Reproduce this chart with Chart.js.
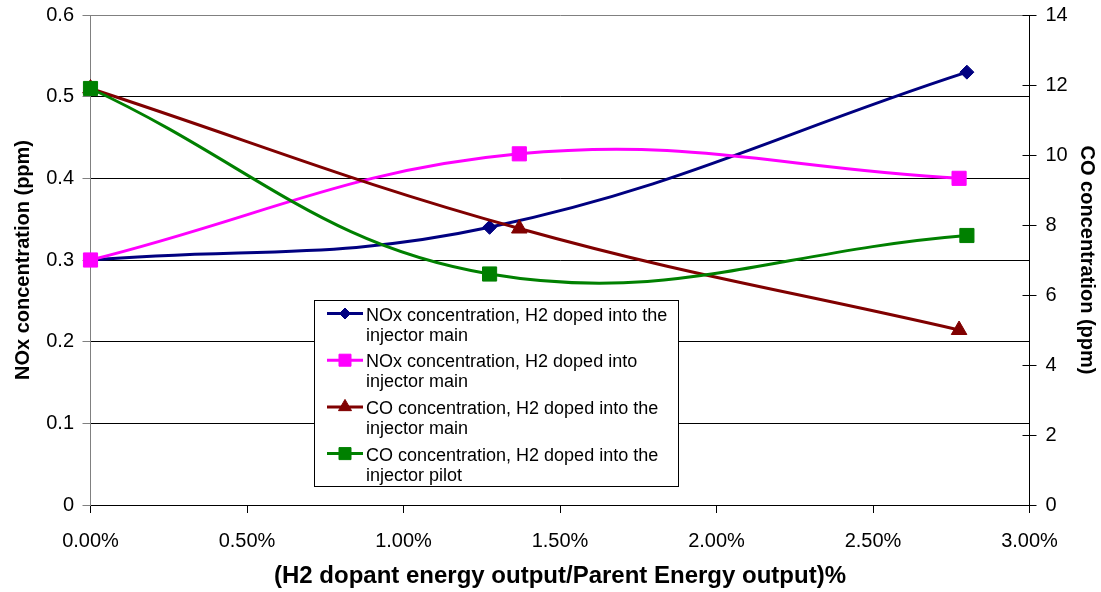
<!DOCTYPE html>
<html>
<head>
<meta charset="utf-8">
<title>NOx and CO concentration vs H2 dopant energy</title>
<script src="https://cdn.jsdelivr.net/npm/chart.js@4.4.1/dist/chart.umd.min.js"></script>
<style>
  html, body { margin: 0; padding: 0; background: #ffffff; }
  #wrap { width: 1101px; height: 592px; }
</style>
</head>
<body>
<div id="wrap"><canvas id="chart" width="1101" height="592"></canvas></div>
<script>
// H2 dopant energy as a share of parent energy output (%), per test series
const dopantShareA = [0.00, 1.275, 2.80];
const dopantShareB = [0.00, 1.37, 2.775];

// Measured concentrations (ppm)
const noxMain      = [0.30, 0.34, 0.53];  // NOx, H2 doped into the injector main
const noxMainB     = [0.30, 0.43, 0.40];  // NOx, H2 doped into injector main
const coMain       = [11.9, 7.9, 5.0];    // CO, H2 doped into the injector main
const coPilot      = [11.9, 6.6, 7.7];    // CO, H2 doped into the injector pilot

// Series names (two lines each, as set in the legend box)
const seriesNames = [
  ['NOx concentration, H2 doped into the', 'injector main'],
  ['NOx concentration, H2 doped into', 'injector main'],
  ['CO concentration, H2 doped into the', 'injector main'],
  ['CO concentration, H2 doped into the', 'injector pilot']
];

// Tick labels
const xTickLabels   = ['0.00%', '0.50%', '1.00%', '1.50%', '2.00%', '2.50%', '3.00%'];
const noxTickLabels = ['0', '0.1', '0.2', '0.3', '0.4', '0.5', '0.6'];
const coTickLabels  = ['0', '2', '4', '6', '8', '10', '12', '14'];

// Axis titles
const xTitle   = '(H2 dopant energy output/Parent Energy output)%';
const noxTitle = 'NOx concentration (ppm)';
const coTitle  = 'CO concentration (ppm)';

const FONT = "'Liberation Sans', Arial, Helvetica, sans-serif";
Chart.defaults.font.family = FONT;
Chart.defaults.color = '#000000';

function points(xs, ys) {
  return xs.map((x, i) => ({ x: x, y: ys[i] }));
}

function series(idx, xs, ys, axis, color, style, radius, order) {
  return {
    label: seriesNames[idx].join(' '),
    data: points(xs, ys),
    yAxisID: axis,
    borderColor: color,
    backgroundColor: color,
    pointBackgroundColor: color,
    pointBorderColor: color,
    pointStyle: style,
    pointRadius: radius,
    pointHoverRadius: radius,
    pointBorderWidth: 1,
    borderWidth: 3,
    tension: 0.4,
    clip: false,
    order: order
  };
}

const datasets = [
  series(0, dopantShareA, noxMain,  'yNox', '#000080', 'rectRot',  7,  3),
  series(1, dopantShareB, noxMainB, 'yNox', '#ff00ff', 'rect',     10, 2),
  series(2, dopantShareB, coMain,   'yCo',  '#800000', 'triangle', 9,  1),
  series(3, dopantShareA, coPilot,  'yCo',  '#008000', 'rect',     10, 0)
];

// Fixed box sizes for the axes so the plot area sits where it should
function fixVertical(width) {
  return (scale) => {
    scale.width = width;
    scale.paddingTop = 0;
    scale.paddingBottom = 0;
  };
}

// Inward half of the right-axis tick marks and the boxed legend inside the plot
const decorations = {
  id: 'decorations',
  afterDraw(chart) {
    const ctx = chart.ctx;
    const co = chart.scales.yCo;
    ctx.save();
    ctx.strokeStyle = '#000000';
    ctx.lineWidth = 1;
    co.ticks.forEach((t) => {
      const y = Math.round(co.getPixelForValue(t.value)) + 0.5;
      ctx.beginPath();
      ctx.moveTo(co.left - 7, y);
      ctx.lineTo(co.left, y);
      ctx.stroke();
    });

    // legend box
    const bx = 314.5, by = 300.5, bw = 364, bh = 186;
    ctx.fillStyle = '#ffffff';
    ctx.fillRect(bx, by, bw, bh);
    ctx.strokeStyle = '#000000';
    ctx.lineWidth = 1;
    ctx.strokeRect(bx, by, bw, bh);

    const legendMarkers = [
      { style: 'rectRot', radius: 5.5 },
      { style: 'rect', radius: 8.5 },
      { style: 'triangle', radius: 7.5 },
      { style: 'rect', radius: 8.5 }
    ];
    ctx.font = '18px ' + FONT;
    ctx.textAlign = 'left';
    ctx.textBaseline = 'alphabetic';
    chart.data.datasets.forEach((ds, i) => {
      const cy = 313.5 + i * 46.7;
      ctx.strokeStyle = ds.borderColor;
      ctx.lineWidth = 3;
      ctx.beginPath();
      ctx.moveTo(327, cy);
      ctx.lineTo(363, cy);
      ctx.stroke();
      ctx.fillStyle = ds.borderColor;
      ctx.lineWidth = 1;
      Chart.helpers.drawPoint(ctx, {
        pointStyle: legendMarkers[i].style,
        radius: legendMarkers[i].radius,
        rotation: 0,
        borderWidth: 1
      }, 345, cy);
      ctx.fillStyle = '#000000';
      const lines = seriesNames[i];
      lines.forEach((line, k) => {
        ctx.fillText(line, 366, cy + 7 + k * 20);
      });
    });
    ctx.restore();
  }
};

new Chart(document.getElementById('chart'), {
  type: 'line',
  data: { datasets: datasets },
  plugins: [decorations],
  options: {
    responsive: false,
    animation: false,
    devicePixelRatio: 1,
    layout: { padding: { top: 15, left: 0, right: 0, bottom: 0 } },
    plugins: {
      legend: { display: false },
      tooltip: { enabled: false }
    },
    scales: {
      x: {
        type: 'linear',
        position: 'bottom',
        min: 0,
        max: 3,
        afterFit(scale) { scale.height = 87; scale.paddingLeft = 0; scale.paddingRight = 0; },
        ticks: {
          stepSize: 0.5,
          padding: 16,
          maxRotation: 0,
          font: { size: 20 },
          color: '#000000',
          callback: (value, index) => xTickLabels[index]
        },
        grid: {
          drawOnChartArea: false,
          drawTicks: true,
          tickLength: 8,
          color: '#000000',
          tickColor: '#000000'
        },
        border: { display: true, color: '#000000', width: 1 },
        title: {
          display: true,
          text: xTitle,
          font: { size: 24, weight: 'bold' },
          color: '#000000',
          padding: { top: 0, bottom: 1 }
        }
      },
      yNox: {
        type: 'linear',
        position: 'left',
        min: 0,
        max: 0.6,
        afterFit: fixVertical(90.5),
        ticks: {
          stepSize: 0.1,
          padding: 8.5,
          font: { size: 20 },
          color: '#000000',
          callback: (value, index) => noxTickLabels[index]
        },
        grid: {
          drawOnChartArea: true,
          drawTicks: true,
          tickLength: 8,
          color: (c) => (c.index === 6 ? '#808080' : (c.index === 0 ? 'rgba(0,0,0,0)' : '#000000')),
          tickColor: '#808080'
        },
        border: { display: true, color: '#808080', width: 1 },
        title: {
          display: true,
          text: noxTitle,
          font: { size: 20, weight: 'bold' },
          color: '#000000',
          padding: { top: 11, bottom: 0 }
        }
      },
      yCo: {
        type: 'linear',
        position: 'right',
        min: 0,
        max: 14,
        afterFit: fixVertical(71.5),
        ticks: {
          stepSize: 2,
          padding: 9,
          font: { size: 20 },
          color: '#000000',
          callback: (value, index) => coTickLabels[index]
        },
        grid: {
          drawOnChartArea: false,
          drawTicks: true,
          tickLength: 7,
          color: '#000000',
          tickColor: '#000000'
        },
        border: { display: true, color: '#000000', width: 1 },
        title: {
          display: true,
          text: coTitle,
          font: { size: 20, weight: 'bold' },
          color: '#000000',
          padding: { top: 2, bottom: 0 }
        }
      }
    }
  }
});
</script>
</body>
</html>
